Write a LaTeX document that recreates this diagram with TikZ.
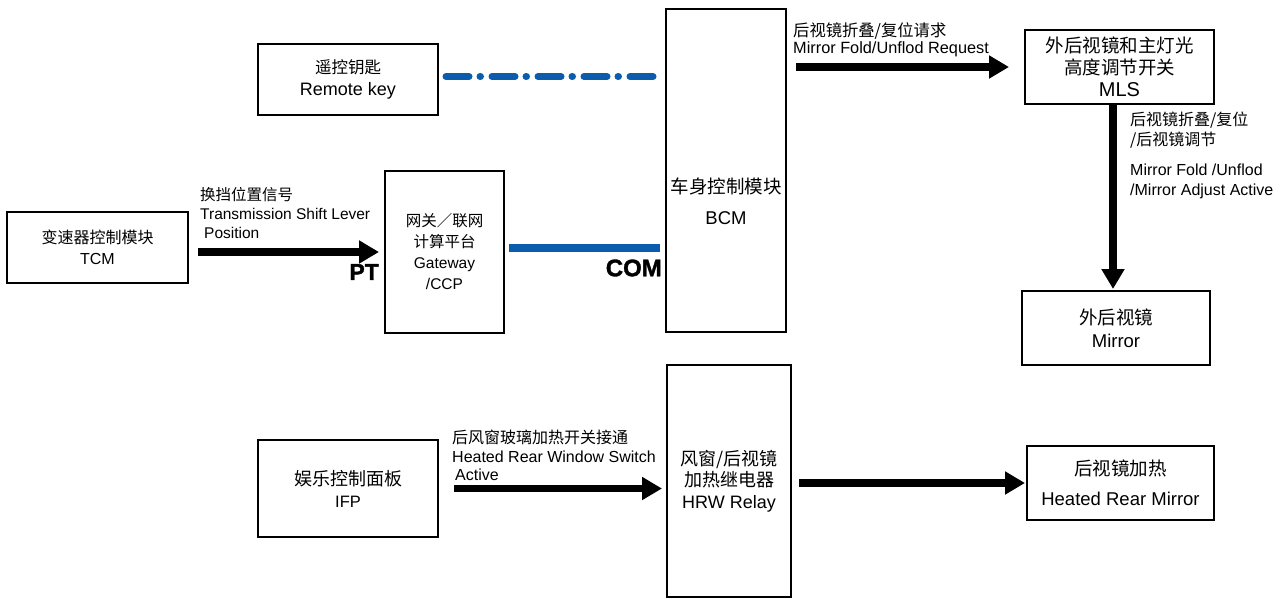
\documentclass[tikz,border=0pt]{standalone}
\usepackage{fontspec}
\setmainfont{Liberation Sans}
\newfontfamily\cjk{Noto Sans CJK SC}
\newfontfamily\heavysf[FakeBold=1.5]{Liberation Sans Bold}
\usepackage{xcolor}
\definecolor{BusBlue}{HTML}{0B5CAD}
\usetikzlibrary{arrows.meta, positioning}
\newcommand{\zh}[1]{{\cjk #1}}

\begin{document}
\begin{tikzpicture}[x=1pt, y=-1pt,
  box/.style={draw, line width=2pt, inner sep=0pt, align=center},
  fatarr/.style={line width=7.5pt, -{Triangle[length=20pt, width=22pt]}},
  comline/.style={line width=7.5pt, color=BusBlue},
  dashbus/.style={line width=7pt, color=BusBlue, line cap=round,
                  dash pattern=on 23pt off 11pt on 0.5pt off 11.5pt},
  tag/.style={inner sep=0pt, align=left, anchor=west},
  bustag/.style={font=\heavysf\fontsize{23}{23}\selectfont, inner sep=0pt, anchor=east}
]
\useasboundingbox (0,0) rectangle (1287,599);

%% ---- Left column ----
\node[box, minimum width=180pt, minimum height=71pt, font=\fontsize{18}{22}\selectfont]
  (key) at (348,79.5) {{\fontsize{16.5}{22}\selectfont\zh{遥控钥匙}}\\Remote key};
\node[box, minimum width=181pt, minimum height=71pt, font=\fontsize{16}{21}\selectfont]
  (tcm) at (97.5,247.5) {\zh{变速器控制模块}\\TCM};
\node[box, minimum width=119pt, minimum height=162pt, font=\fontsize{15.5}{21}\selectfont]
  (gw) at (444.5,252) {\zh{网关／联网}\\\zh{计算平台}\\Gateway\\/CCP};
\node[box, minimum width=180pt, minimum height=97pt, font=\fontsize{18}{22}\selectfont]
  (ifp) at (348,488.5) {\zh{娱乐控制面板}\\{\fontsize{16.5}{22}\selectfont IFP}};

%% ---- Middle column ----
\node[box, minimum width=120pt, minimum height=323pt] (bcm) at (726,170.5) {};
\node[font=\fontsize{18.5}{31}\selectfont, align=center, inner sep=0pt]
  (bcmtxt) at (726,201.5) {\zh{车身控制模块}\\BCM};
\node[box, minimum width=124pt, minimum height=232pt, font=\fontsize{18}{21.5}\selectfont]
  (hrw) at (729,481) {\zh{风窗/后视镜}\\\zh{加热继电器}\\HRW Relay};

%% ---- Right column ----
\node[box, minimum width=189pt, minimum height=74pt, font=\fontsize{18.5}{22}\selectfont]
  (mls) at (1119.5,67) {\zh{外后视镜和主灯光}\\\zh{高度调节开关}\\{\fontsize{20}{22}\selectfont MLS}};
\node[box, minimum width=188pt, minimum height=74pt, font=\fontsize{18.5}{23}\selectfont]
  (mirror) at (1116,328) {\zh{外后视镜}\\Mirror};
\node[box, minimum width=187pt, minimum height=74pt, font=\fontsize{18.5}{30}\selectfont]
  (heated) at (1120.5,483) {\zh{后视镜加热}\\Heated Rear Mirror};

%% ---- Signal arrows ----
\draw[fatarr, shorten <=9pt, shorten >=5pt] (tcm.east |- gw) -- (gw.west);
\draw[fatarr, shorten <=9pt, shorten >=15pt] (bcm.east |- mls) -- (mls.west);
\coordinate (mlsdrop) at ([xshift=-6.5pt]mls.south);
\draw[fatarr, shorten >=1pt] (mlsdrop) -- (mlsdrop |- mirror.north);
\draw[fatarr, shorten <=15pt, shorten >=4pt] (ifp.east) -- (ifp.east -| hrw.west);
\draw[fatarr, shorten <=7pt, shorten >=1pt] (hrw.east |- heated) -- (heated.west);

%% ---- Bus lines ----
\draw[comline, shorten <=4pt, shorten >=5pt] ([yshift=4pt]gw.east) -- ([yshift=4pt]gw.east -| bcm.west);
\draw[dashbus, shorten <=7pt, shorten >=11pt] ([yshift=3pt]key.east) -- ([yshift=3pt]key.east -| bcm.west);

%% ---- Labels ----
\node[tag, font=\fontsize{15.5}{19}\selectfont] (shiftlbl) at (200,213.5)
  {\zh{换挡位置信号}\\Transmission Shift Lever\\\hspace*{4pt}Position};
\node[bustag] (ptlbl) at (379,272) {PT};
\node[bustag, font=\heavysf\fontsize{24}{24}\selectfont] (comlbl) at (662,268) {COM};
\node[tag, font=\fontsize{16.3}{17}\selectfont] (foldlbl) at (793,39.5)
  {\zh{后视镜折叠/复位请求}\\Mirror Fold/Unflod Request};
\node[tag, font=\fontsize{16}{20}\selectfont] (adjlbl) at (1130,155)
  {\zh{后视镜折叠/复位}\\\zh{/后视镜调节}\\[10pt]Mirror Fold /Unflod\\/Mirror Adjust Active};
\node[tag, font=\fontsize{16}{18.5}\selectfont] (heatlbl) at (452,455.5)
  {\zh{后风窗玻璃加热开关接通}\\Heated Rear Window Switch\\\hspace*{3pt}Active};

\end{tikzpicture}
\end{document}
